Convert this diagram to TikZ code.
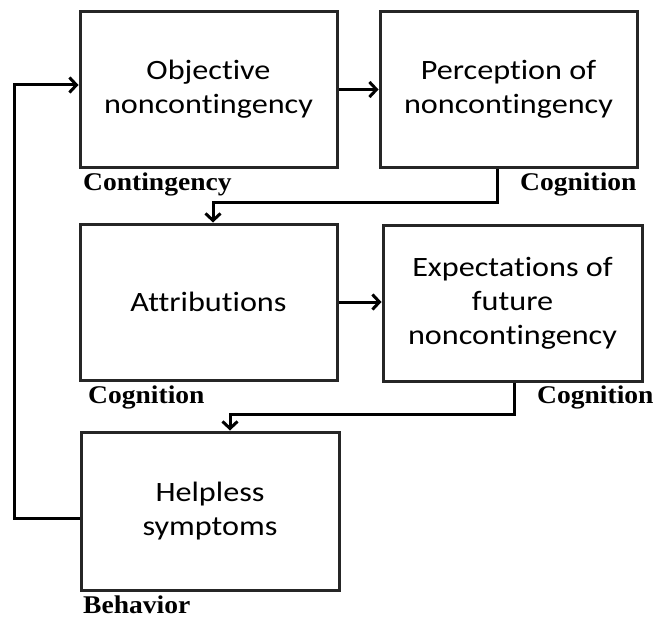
\documentclass[tikz,border=0pt]{standalone}
\usepackage{fontspec}
\setmainfont{Carlito}[FakeStretch=1.15, Ligatures={NoCommon}]
\newfontfamily\tagfont{Liberation Serif}[FakeStretch=1.08]
\usetikzlibrary{arrows.meta}
\begin{document}
\begin{tikzpicture}[x=1pt,y=-1pt,
  stage/.style={draw=black!85, line width=3pt, fill=white, align=center,
    inner sep=0pt, font=\fontsize{28}{34}\selectfont},
  tag/.style={anchor=base west, inner sep=0pt,
    font=\tagfont\bfseries\fontsize{25.5}{28}\selectfont},
  link/.style={line width=3pt, -{Straight Barb[length=7pt,width=15pt,line width=3pt]}}]
\useasboundingbox (0,0) rectangle (654,618);

% stages of the model
\node[stage, minimum width=257pt, minimum height=155pt] (obj) at (208.5,89.5)
  {Objective\\noncontingency};
\node[stage, minimum width=257pt, minimum height=155pt] (perc) at (508.5,89.5)
  {Perception of\\noncontingency};
\node[stage, minimum width=257pt, minimum height=156pt] (attr) at (208.5,302)
  {Attributions};
\node[stage, minimum width=259pt, minimum height=156pt] (expt) at (512.5,303)
  {Expectations of\\future\\noncontingency};
\node[stage, minimum width=258pt, minimum height=158pt] (help) at (210,511)
  {Helpless\\symptoms};

% category tags
\node[tag] (t1) at (83,190) {Contingency};
\node[tag] (t2) at (520,190) {Cognition};
\node[tag] (t3) at (88,403) {Cognition};
\node[tag] (t4) at (537,403) {Cognition};
\node[tag] (t5) at (83,613) {Behavior};

% bend points of the connectors
\coordinate (k1) at (497,202);
\coordinate (k2) at (213,202);
\coordinate (k3) at (514,414);
\coordinate (k4) at (230,414);
\coordinate (k5) at (14,518);
\coordinate (k6) at (14,85);

% flow
\draw[link] (obj.east) -- (perc.west);
\draw[link] (perc.south -| k1) -- (k1) -- (k2) -- (k2 |- attr.north);
\draw[link] (attr.east) -- (attr.east -| expt.west);
\draw[link] (expt.south -| k3) -- (k3) -- (k4) -- (k4 |- help.north);
\draw[link] (help.west |- k5) -- (k5) -- (k6) -- (k6 -| obj.west);
\end{tikzpicture}
\end{document}
